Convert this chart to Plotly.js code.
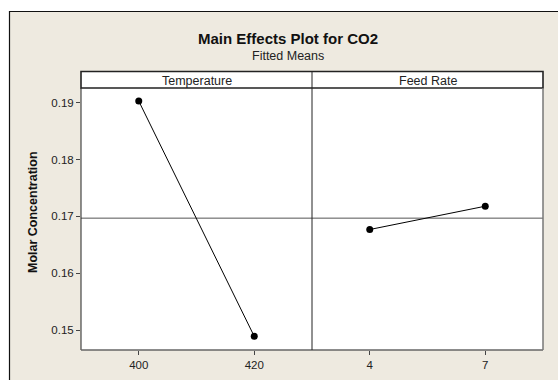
<!DOCTYPE html>
<html>
<head>
<meta charset="utf-8">
<script src="https://cdn.plot.ly/plotly-3.0.1.min.js"></script>
<style>html,body{margin:0;padding:0;background:#fff;}#chart{width:558px;height:380px;}</style>
</head>
<body>
<div id="chart"></div>
<script>
// Data
const tempLevels = [400, 420];
const tempMeans = [0.1903, 0.1489];
const feedLevels = [4, 7];
const feedMeans = [0.1677, 0.1718];
const grandMean = 0.1697;
const panelLabels = ["Temperature", "Feed Rate"];
const yTicks = [0.15, 0.16, 0.17, 0.18, 0.19];
const yTickLabels = ["0.15", "0.16", "0.17", "0.18", "0.19"];

// geometry helpers (pixel -> paper)
const L = 81, R = 15, T = 88, B = 30, W = 558 - L - R, H = 380 - T - B;
const px = x => (x - L) / W;
const py = y => (380 - B - y) / H;

const FONT = "Liberation Sans, Arial, sans-serif";
const beige = "#EEEAE0";

const mk = {color: "#000", size: 7};
const ln = {color: "#000", width: 1};

const traces = [
  {x: tempLevels, y: tempMeans, xaxis: "x", yaxis: "y", mode: "lines+markers", marker: mk, line: ln, hoverinfo: "skip"},
  {x: feedLevels, y: feedMeans, xaxis: "x2", yaxis: "y", mode: "lines+markers", marker: mk, line: ln, hoverinfo: "skip"}
];

const axCommon = {
  showgrid: false, zeroline: false, showline: false,
  ticks: "outside", ticklen: 4, tickwidth: 1, tickcolor: "#444",
  tickfont: {family: FONT, size: 11.5, color: "#222"}
};

const layout = {
  width: 558, height: 380,
  margin: {l: L, r: R, t: T, b: B, pad: 0},
  paper_bgcolor: "#fff", plot_bgcolor: "#fff",
  showlegend: false,
  font: {family: FONT, color: "#222"},
  xaxis: Object.assign({}, axCommon, {domain: [0, 0.5], anchor: "y", range: [390, 430], tickvals: tempLevels, ticktext: tempLevels.map(String)}),
  xaxis2: Object.assign({}, axCommon, {domain: [0.5, 1], anchor: "y", range: [2.5, 8.5], tickvals: feedLevels, ticktext: feedLevels.map(String)}),
  yaxis: Object.assign({}, axCommon, {range: [0.1465, 0.1926], tickvals: yTicks, ticktext: yTickLabels}),
  shapes: [
    // beige frame
    {type: "rect", xref: "paper", yref: "paper", x0: px(9.5), x1: px(620), y0: py(420), y1: py(11.5), fillcolor: beige, line: {color: "#111", width: 1.2}, layer: "below"},
    // white plot area
    {type: "rect", xref: "paper", yref: "paper", x0: 0, x1: 1, y0: 0, y1: 1, fillcolor: "#fff", line: {width: 0}, layer: "below"},
    // header box
    {type: "rect", xref: "paper", yref: "paper", x0: 0, x1: 1, y0: 1, y1: py(71.5), fillcolor: "#fff", line: {color: "#222", width: 1.6}, layer: "below"},
    // mean line
    {type: "line", xref: "paper", yref: "y", x0: 0, x1: 1, y0: grandMean, y1: grandMean, line: {color: "#555", width: 1}, layer: "below"},
    // panel borders
    {type: "line", xref: "paper", yref: "paper", x0: 0, x1: 0, y0: 0, y1: 1, line: {color: "#222", width: 1}},
    {type: "line", xref: "paper", yref: "paper", x0: 0, x1: 1, y0: 0, y1: 0, line: {color: "#666", width: 1.5}},
    {type: "line", xref: "paper", yref: "paper", x0: 1, x1: 1, y0: 0, y1: 1, line: {color: "#777", width: 1.5}},
    {type: "line", xref: "paper", yref: "paper", x0: 0.5, x1: 0.5, y0: 0, y1: py(71.5), line: {color: "#222", width: 1}}
  ],
  annotations: [
    {text: "<b>Main Effects Plot for CO2</b>", xref: "paper", yref: "paper", x: px(288), y: py(39), xanchor: "center", yanchor: "middle", showarrow: false, font: {family: FONT, size: 15, color: "#111"}},
    {text: "Fitted Means", xref: "paper", yref: "paper", x: px(288), y: py(56), xanchor: "center", yanchor: "middle", showarrow: false, font: {family: FONT, size: 12.5, color: "#222"}},
    {text: panelLabels[0], xref: "paper", yref: "paper", x: 0.25, y: py(80.5), xanchor: "center", yanchor: "middle", showarrow: false, font: {family: FONT, size: 12.5, color: "#222"}},
    {text: panelLabels[1], xref: "paper", yref: "paper", x: 0.75, y: py(80.5), xanchor: "center", yanchor: "middle", showarrow: false, font: {family: FONT, size: 12.5, color: "#222"}},
    {text: "<b>Molar Concentration</b>", xref: "paper", yref: "paper", x: px(33), y: py(212), xanchor: "center", yanchor: "middle", textangle: -90, showarrow: false, font: {family: FONT, size: 12.5, color: "#111"}}
  ]
};

Plotly.newPlot("chart", traces, layout, {displayModeBar: false, staticPlot: true});
</script>
</body>
</html>
